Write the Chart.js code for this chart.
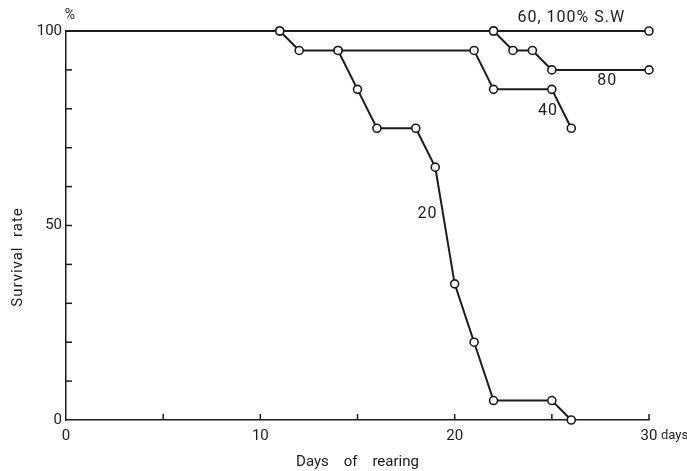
<!DOCTYPE html>
<html lang="en">
<head>
  <meta charset="UTF-8" />
  <title>Survival rate vs days of rearing</title>
  <script src="https://cdn.jsdelivr.net/npm/chart.js"></script>
  <style>
    body { margin: 0; background: #fff; }
    #wrap { width: 687px; height: 471px; }
  </style>
</head>
<body>
  <div id="wrap"><canvas id="survivalChart" width="687" height="471"></canvas></div>

  <script>
    // survival (%) per salinity group
    const days100 = [0, 11, 22, 30];
    const surv100 = [100, 100, 100, 100];

    const days80 = [22, 23, 24, 25, 30];
    const surv80 = [100, 95, 95, 90, 90];

    const days40 = [11, 12, 14, 21, 22, 25, 26];
    const surv40 = [100, 95, 95, 95, 85, 85, 75];

    const days20 = [14, 15, 16, 18, 19, 20, 21, 22, 25, 26];
    const surv20 = [95, 85, 75, 75, 65, 35, 20, 5, 5, 0];

    const xTicks = [0, 10, 20, 30];
    const yTicks = [0, 50, 100];

    // series labels, placed in data units
    const seriesLabels = [
      { text: '60, 100% S.W', x: 26.0, y: 103.4 },
      { text: '80', x: 27.85, y: 87.2 },
      { text: '40', x: 24.8, y: 79.4 },
      { text: '20', x: 18.6, y: 53.0 }
    ];

    const ink = '#1c1c1c';
    const FONT = 'Roboto, "DejaVu Sans", sans-serif';

    const toPoints = (xs, ys) => xs.map((x, i) => ({ x: x, y: ys[i] }));

    function lineSet(label, xs, ys, hideFirst) {
      return {
        label: label,
        data: toPoints(xs, ys),
        borderColor: ink,
        borderWidth: 2,
        pointBackgroundColor: '#fff',
        pointBorderColor: ink,
        pointBorderWidth: 1.6,
        pointRadius: xs.map((_, i) => (hideFirst && i === 0) ? 0 : 4),
        tension: 0,
        clip: false
      };
    }

    // inward tick marks, labels and extra text
    const decorations = {
      id: 'decorations',
      afterDraw(chart) {
        const ctx = chart.ctx;
        const xs = chart.scales.x, ys = chart.scales.y;
        ctx.save();
        ctx.strokeStyle = ink;
        ctx.lineWidth = 1.5;
        for (let d = 5; d <= 30; d += 5) {
          const px = xs.getPixelForValue(d);
          ctx.beginPath();
          ctx.moveTo(px, ys.bottom);
          ctx.lineTo(px, ys.bottom - 6);
          ctx.stroke();
        }
        for (let v = 10; v <= 90; v += 10) {
          const py = ys.getPixelForValue(v);
          ctx.beginPath();
          ctx.moveTo(xs.left, py);
          ctx.lineTo(xs.left + 6, py);
          ctx.stroke();
        }

        ctx.fillStyle = ink;
        ctx.textAlign = 'center';
        ctx.textBaseline = 'middle';
        ctx.font = '16px ' + FONT;
        ctx.letterSpacing = '1px';
        seriesLabels.forEach(l => {
          ctx.fillText(l.text, xs.getPixelForValue(l.x), ys.getPixelForValue(l.y));
        });

        ctx.font = '14px ' + FONT;
        ctx.letterSpacing = '0px';
        ctx.fillText('%', xs.left + 4, ys.top - 16);

        ctx.textAlign = 'left';
        ctx.font = '13px ' + FONT;
        ctx.fillText('days', xs.getPixelForValue(30) + 12, ys.bottom + 16);

        ctx.translate(18, 257);
        ctx.rotate(-Math.PI / 2);
        ctx.textAlign = 'center';
        ctx.font = '15px ' + FONT;
        ctx.letterSpacing = '1px';
        ctx.fillText('Survival  rate', 0, 0);
        ctx.restore();
      }
    };

    new Chart(document.getElementById('survivalChart'), {
      type: 'line',
      data: {
        datasets: [
          lineSet('60,100% S.W', days100, surv100, true),
          lineSet('80', days80, surv80, false),
          lineSet('40', days40, surv40, false),
          lineSet('20', days20, surv20, false)
        ]
      },
      options: {
        responsive: false,
        animation: false,
        layout: { padding: { top: 31, right: 38, bottom: 0, left: 0 } },
        plugins: { legend: { display: false }, tooltip: { enabled: false } },
        scales: {
          x: {
            type: 'linear',
            min: 0,
            max: 30,
            afterBuildTicks: s => { s.ticks = xTicks.map(v => ({ value: v })); },
            afterFit: s => { s.height = 51; },
            ticks: {
              color: ink,
              font: { family: FONT, size: 15 },
              padding: 7,
              maxRotation: 0
            },
            grid: { display: false, drawTicks: false, tickLength: 0 },
            border: { color: ink, width: 1.5 },
            title: {
              display: true,
              text: 'Days    of    rearing',
              color: ink,
              font: { family: FONT, size: 15 },
              padding: { top: 0, bottom: 0 }
            }
          },
          y: {
            min: 0,
            max: 100,
            afterBuildTicks: s => { s.ticks = yTicks.map(v => ({ value: v })); },
            afterFit: s => { s.width = 66; },
            ticks: {
              color: ink,
              font: { family: FONT, size: 15 },
              padding: 4
            },
            grid: { display: false, drawTicks: false, tickLength: 0 },
            border: { color: ink, width: 1.5 }
          }
        }
      },
      plugins: [decorations]
    });
  </script>
</body>
</html>
